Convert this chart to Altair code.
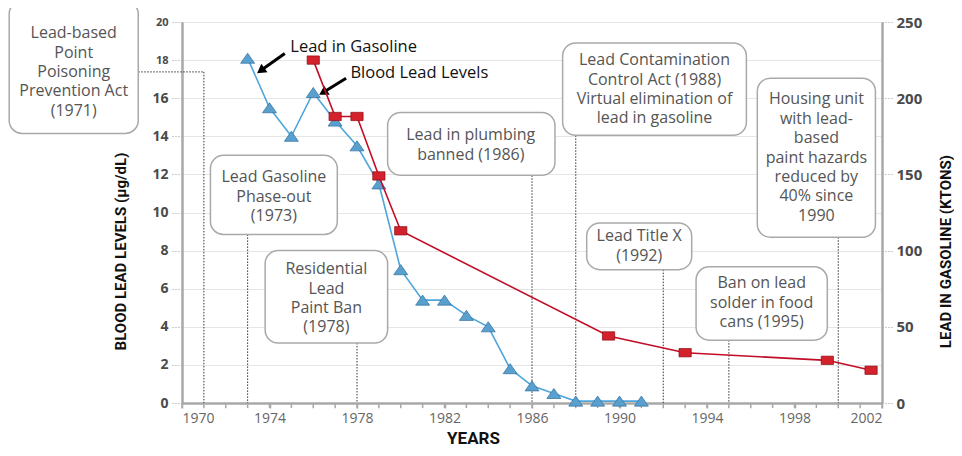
import altair as alt
import pandas as pd

# ---------------- data ----------------
blood_years = [1973, 1974, 1975, 1976, 1977, 1978, 1979, 1980, 1981, 1982,
               1983, 1984, 1985, 1986, 1987, 1988, 1989, 1990, 1991]
blood_values = [18.1, 15.5, 14.0, 16.3, 14.8, 13.5, 11.5, 7.0, 5.4, 5.4,
                4.6, 4.0, 1.8, 0.9, 0.5, 0.1, 0.1, 0.1, 0.1]

gas_years = [1976, 1977, 1978, 1979, 1980, 1989.5, 1993, 1999.5, 2001.5]
gas_values = [225, 188, 188, 149, 113, 44, 33, 28, 21.5]

x_label_years = [1970, 1974, 1978, 1982, 1986, 1990, 1994, 1998, 2002]
x_tick_years = list(range(1970, 2003))

box_lines = [
    ["Lead-based", "Point", "Poisoning", "Prevention Act", "(1971)"],
    ["Lead Gasoline", "Phase-out", "(1973)"],
    ["Residential", "Lead", "Paint Ban", "(1978)"],
    ["Lead in plumbing", "banned (1986)"],
    ["Lead Contamination", "Control Act (1988)", "Virtual elimination of", "lead in gasoline"],
    ["Lead Title X", "(1992)"],
    ["Ban on lead", "solder in food", "cans (1995)"],
    ["Housing unit", "with lead-", "based", "paint hazards", "reduced by", "40% since", "1990"],
]
box_x1 = [1962.1, 1971.3, 1973.8, 1979.4, 1987.4, 1988.5, 1993.5, 1996.3]
box_x2 = [1968.0, 1977.1, 1979.4, 1987.05, 1995.8, 1993.3, 1999.5, 2001.7]
box_y1 = [21.1, 13.0, 8.0, 15.25, 18.9, 9.45, 7.15, 17.05]
box_y2 = [14.15, 8.85, 3.15, 11.95, 14.05, 7.0, 3.3, 8.7]
box_cx = [1965.05, 1974.2, 1976.6, 1983.2, 1991.6, 1990.9, 1996.5, 1999.0]
box_first_line_y = [19.41, 11.85, 7.02, 14.05, 17.99, 8.75, 6.28, 15.94]

leader_x1 = [1971, 1968.0, 1973, 1978, 1986, 1988, 1992, 1995, 2000]
leader_x2 = [1971, 1971, 1973, 1978, 1986, 1988, 1992, 1995, 2000]
leader_y1 = [17.38, 17.38, 8.85, 3.15, 11.95, 14.05, 7.0, 3.3, 8.7]
leader_y2 = [0, 17.38, 0, 0, 0, 0, 0, 0, 0]

arrow_labels = ["Lead in Gasoline", "Blood Lead Levels"]
arrow_label_x = [1974.95, 1977.7]
arrow_label_y = [18.7, 17.3]
arrow_x1 = [1974.7, 1977.5]
arrow_y1 = [18.35, 17.05]
arrow_x2 = [1973.6, 1976.45]
arrow_y2 = [17.45, 16.3]
arrow_angle = [234, 239]

# ---------------- frames ----------------
blood_df = pd.DataFrame({"year": blood_years, "value": blood_values})
gas_df = pd.DataFrame({"year": gas_years, "value": gas_values})
tick_df = pd.DataFrame({"year": x_tick_years})
box_df = pd.DataFrame({"x1": box_x1, "x2": box_x2, "y1": box_y1, "y2": box_y2,
                       "cx": box_cx, "cy": box_first_line_y, "lines": box_lines})
leader_df = pd.DataFrame({"x1": leader_x1, "x2": leader_x2, "y1": leader_y1, "y2": leader_y2})
arrow_df = pd.DataFrame({"label": arrow_labels, "lx": arrow_label_x, "ly": arrow_label_y,
                         "x1": arrow_x1, "y1": arrow_y1, "x2": arrow_x2, "y2": arrow_y2,
                         "angle": arrow_angle})

FONT = "Open Sans"
TITLE_FONT = "Roboto"

xscale = alt.Scale(domain=[1970, 2002], nice=False, zero=False)
yscale = alt.Scale(domain=[0, 20], nice=False, zero=False)
y2scale = alt.Scale(domain=[0, 250], nice=False, zero=False)

x_axis = alt.Axis(
    values=x_label_years, format="d", orient="bottom",
    title="YEARS", titleFont=TITLE_FONT, titleFontSize=17, titleFontWeight="bold",
    titleColor="#111", titleX=291, titleY=40, titleBaseline="alphabetic",
    labelFont=FONT, labelFontSize=14, labelColor="#666", labelPadding=3,
    domainColor="#a8a8a8", domainWidth=2.5, tickColor="#a8a8a8", tickWidth=1.5,
    tickSize=5, grid=False,
)

y_axis = alt.Axis(
    values=list(range(0, 21, 2)), orient="left",
    title="BLOOD LEAD LEVELS (µg/dL)", titleFont=TITLE_FONT, titleFontSize=15,
    titleFontWeight="bold", titleColor="#111", titleAngle=270, titleX=-62, titleY=229,
    titleAlign="center", titleBaseline="middle",
    labelFont=FONT, labelColor="#4a4a4a", labelFontWeight="bold",
    labelFontSize={"condition": {"test": "datum.value >= 18", "value": 11}, "value": 14},
    labelPadding=2, tickSize=12, tickDash=[1, 2], tickColor="#999", tickWidth=1,
    domainColor="#a8a8a8", domainWidth=2.5,
    grid=True, gridColor="#e6e6e6", gridWidth=1.2,
)

y2_axis = alt.Axis(
    values=list(range(0, 251, 50)), orient="right",
    title="LEAD IN GASOLINE (KTONS)", titleFont=TITLE_FONT, titleFontSize=15,
    titleFontWeight="bold", titleColor="#111", titleAngle=270, titleX=63, titleY=229,
    titleAlign="center", titleBaseline="middle",
    labelFont=FONT, labelColor="#4a4a4a", labelFontWeight="bold", labelFontSize=15,
    labelPadding=3, tickSize=11, tickDash=[1, 2], tickColor="#999", tickWidth=1,
    domainColor="#a8a8a8", domainWidth=2.5, grid=False,
)

TRI = "M0,-0.72L1,0.72L-1,0.72Z"
RECT = "M-1,-0.68L1,-0.68L1,0.68L-1,0.68Z"

# x axis is shared: only the first layer defines it, the others leave "axis" unset
blue_line = alt.Chart(blood_df).mark_line(color="#4ea6dc", strokeWidth=1.6).encode(
    x=alt.X("year:Q", scale=xscale, axis=x_axis),
    y=alt.Y("value:Q", scale=yscale, axis=y_axis),
)
year_ticks = alt.Chart(tick_df).mark_rule(color="#a8a8a8", strokeWidth=1.5).encode(
    x=alt.X("year:Q", scale=xscale),
    y=alt.Y(datum=0, scale=yscale, axis=None),
    y2=alt.Y2(datum=-0.27),
)
leaders = alt.Chart(leader_df).mark_rule(color="#333", strokeWidth=1, strokeDash=[1.5, 1.5]).encode(
    x=alt.X("x1:Q", scale=xscale), x2="x2:Q",
    y=alt.Y("y1:Q", scale=yscale, axis=None), y2="y2:Q",
)
boxes = alt.Chart(box_df).mark_rect(cornerRadius=13, fill="white", stroke="#a9a9a9",
                                     strokeWidth=1.5).encode(
    x=alt.X("x1:Q", scale=xscale), x2="x2:Q",
    y=alt.Y("y1:Q", scale=yscale, axis=None), y2="y2:Q",
)
box_text = alt.Chart(box_df).mark_text(font=FONT, fontSize=16, lineHeight=19.4, color="#555",
                                        align="center", baseline="middle").encode(
    x=alt.X("cx:Q", scale=xscale),
    y=alt.Y("cy:Q", scale=yscale, axis=None),
    text="lines",
)
blue_pts = alt.Chart(blood_df).mark_point(shape=TRI, filled=True, size=196, fill="#5aa0cf",
                                           stroke="#2f6f9c", strokeWidth=0.7, opacity=1).encode(
    x=alt.X("year:Q", scale=xscale),
    y=alt.Y("value:Q", scale=yscale, axis=None),
)
arrows = alt.Chart(arrow_df).mark_rule(color="black", strokeWidth=3).encode(
    x=alt.X("x1:Q", scale=xscale), x2="x2:Q",
    y=alt.Y("y1:Q", scale=yscale, axis=None), y2="y2:Q",
)
heads = alt.Chart(arrow_df).mark_point(shape="triangle-up", filled=True, size=110,
                                        color="black", opacity=1).encode(
    x=alt.X("x2:Q", scale=xscale),
    y=alt.Y("y2:Q", scale=yscale, axis=None),
    angle=alt.Angle("angle:Q", scale=None),
)
labels = alt.Chart(arrow_df).mark_text(font=FONT, fontSize=16.5, color="#111", align="left",
                                        baseline="middle").encode(
    x=alt.X("lx:Q", scale=xscale),
    y=alt.Y("ly:Q", scale=yscale, axis=None),
    text="label",
)
red_line = alt.Chart(gas_df).mark_line(color="#c20d26", strokeWidth=1.6).encode(
    x=alt.X("year:Q", scale=xscale),
    y=alt.Y("value:Q", scale=y2scale, axis=y2_axis),
)
red_pts = alt.Chart(gas_df).mark_point(shape=RECT, filled=True, size=150, fill="#d3222b",
                                        stroke="#8e0a12", strokeWidth=0.7, opacity=1).encode(
    x=alt.X("year:Q", scale=xscale),
    y=alt.Y("value:Q", scale=y2scale, axis=None),
)

chart = alt.layer(
    blue_line, year_ticks, leaders, boxes, box_text, blue_pts, arrows, heads, labels,
    red_line, red_pts
).resolve_scale(y="independent").properties(
    width=700, height=381,
    autosize=alt.AutoSizeParams(type="none"),
    padding={"left": 174, "top": 14, "right": 72, "bottom": 45},
    background="white",
).configure_view(stroke=None)

chart.save("out.html", embed_options={"renderer": "svg", "actions": False})
